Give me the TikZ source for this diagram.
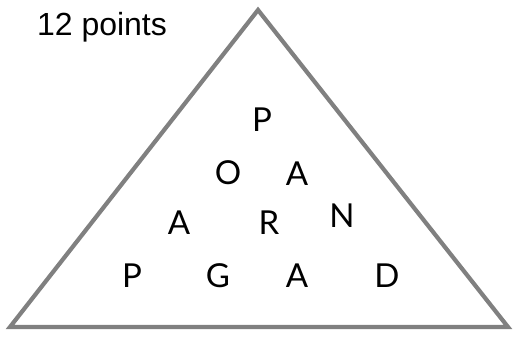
\documentclass[tikz,border=0pt]{standalone}
\usepackage{fontspec}
\setmainfont{Liberation Sans}
\newfontfamily\letterfont{Lato}
\begin{document}
\begin{tikzpicture}[x=1pt,y=1pt,
  letter/.style={font=\letterfont\fontsize{33}{38}\selectfont, inner sep=0pt, anchor=center},
  edge/.style={draw=gray, line width=4.2pt, line join=miter}]
\useasboundingbox (0,0) rectangle (513,337);
\coordinate (top) at (258,327);
\coordinate (bl) at (10,10);
\coordinate (br) at (508,10);
\draw[edge] (top) -- (bl) -- (br) -- cycle;
\node[font=\fontsize{32}{36}\selectfont, anchor=center] (title) at (102,310) {12 points};
\node[letter] (l1) at (262,217) {P};
\node[letter] (l2) at (228,164) {O};
\node[letter] (l3) at (297,163) {A};
\node[letter] (l4) at (179,114) {A};
\node[letter] (l5) at (269,114) {R};
\node[letter] (l6) at (342,121) {N};
\node[letter] (l7) at (132,61) {P};
\node[letter] (l8) at (218,61) {G};
\node[letter] (l9) at (297,61) {A};
\node[letter] (l10) at (387,61) {D};
\end{tikzpicture}
\end{document}
